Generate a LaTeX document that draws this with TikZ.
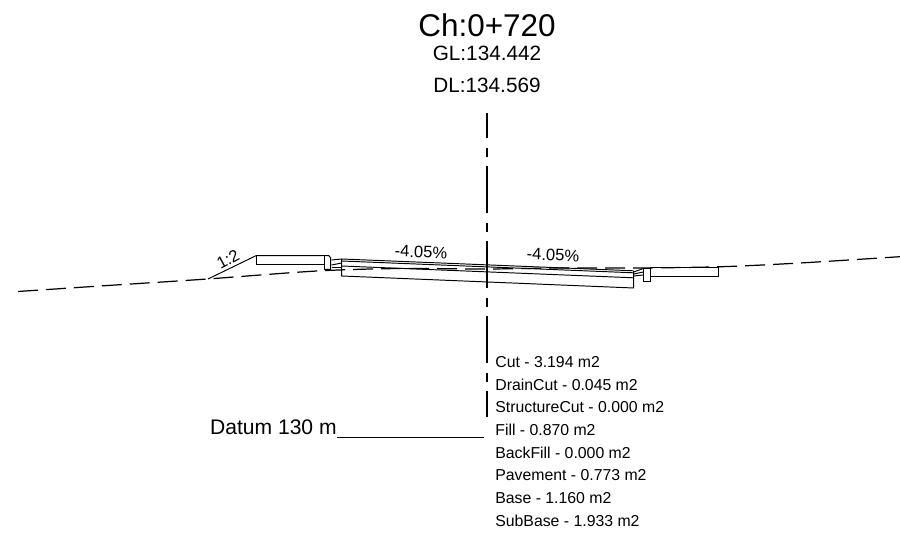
\documentclass[tikz,border=0pt]{standalone}
\usepackage{fontspec}
\setmainfont{Liberation Sans}
\tikzset{
  roadline/.style={line width=.55pt},
  groundline/.style={line width=.7pt, dash pattern=on .4cm off .16cm},
  centreline/.style={line width=.8pt, dash pattern=on .94cm off .2cm on .18cm off .18cm, dash phase=.44cm},
  arealabel/.style={anchor=west, inner sep=0pt, font=\fontsize{9}{11}\selectfont}
}
\begin{document}
\begin{tikzpicture}[x=.02cm, y=-.02cm]
\useasboundingbox (0,0) rectangle (900,536);
\node (chainage) at (487,25){\fontsize{17.9}{20}\selectfont Ch:0+720};
\node (gl) at (487,53){\fontsize{11.8}{14}\selectfont GL:134.442};
\node (dl) at (487,85){\fontsize{11.8}{14}\selectfont DL:134.569};
% ground
\draw[groundline] plot[smooth] coordinates {(18,291.5) (100,286) (203,279.3) (317,271) (400,268.5) (487,269) (560,268) (640,268) (722,266.7) (800,263) (900,256.7)};
\draw[centreline] (487,113)--(487,416.7);
% left side
\draw[roadline] (208,279)--(256,255.7)--(329,255.7);
\draw[roadline] (256,255.7) rectangle (324.5,264.3);
\draw[roadline] (324.5,255.7)--(324.5,269.3)--(330.7,269.3)--(330.7,258)--(329,255.7);
\foreach \a/\b in {260/259, 265/263, 267/267}
{
    \draw[roadline] (331.5,\a)--(341.7,\b);
}
% pavement
\foreach \y in {259,261,266}
{
    \draw[roadline] (341.7,\y)--(633.7,\y+11.8);
}
\draw[roadline] (341.7,259)--(341.7,276)--(633.7,288)--(633.7,270.8);
% right side
\foreach \a/\b in {272/268.5, 274/272, 276/275}
{
    \draw[roadline] (633.7,\a)--(643.3,\b);
}
\draw[roadline] (643.3,268.3) rectangle (650.3,281.7);
\draw[roadline] (650.3,267.5) rectangle (718.7,276);
\node[rotate=-2] (slopeleft) at (421,252){\fontsize{9.4}{11}\selectfont -4.05\%};
\node[rotate=-2] (sloperight) at (553,255){\fontsize{9.4}{11}\selectfont -4.05\%};
\node[rotate=28] (batter) at (228,259){\fontsize{9.4}{11}\selectfont 1:2};
% datum
\node[anchor=east, inner sep=0pt] (datum) at (337,427){\fontsize{12}{14}\selectfont Datum 130 m};
\coordinate (datumstart) at (337,437.5);
\coordinate (datumend) at (484,437.5);
\draw[line width=.7pt] (datumstart)--(datumend);
% areas
\foreach \t [count=\i from 0] in {Cut - 3.194 m2, DrainCut - 0.045 m2, StructureCut - 0.000 m2, Fill - 0.870 m2, BackFill - 0.000 m2, Pavement - 0.773 m2, Base - 1.160 m2, SubBase - 1.933 m2}
{
    \node[arealabel] (area\i) at (495,362+22.7*\i){\t};
}
\end{tikzpicture}
\end{document}
